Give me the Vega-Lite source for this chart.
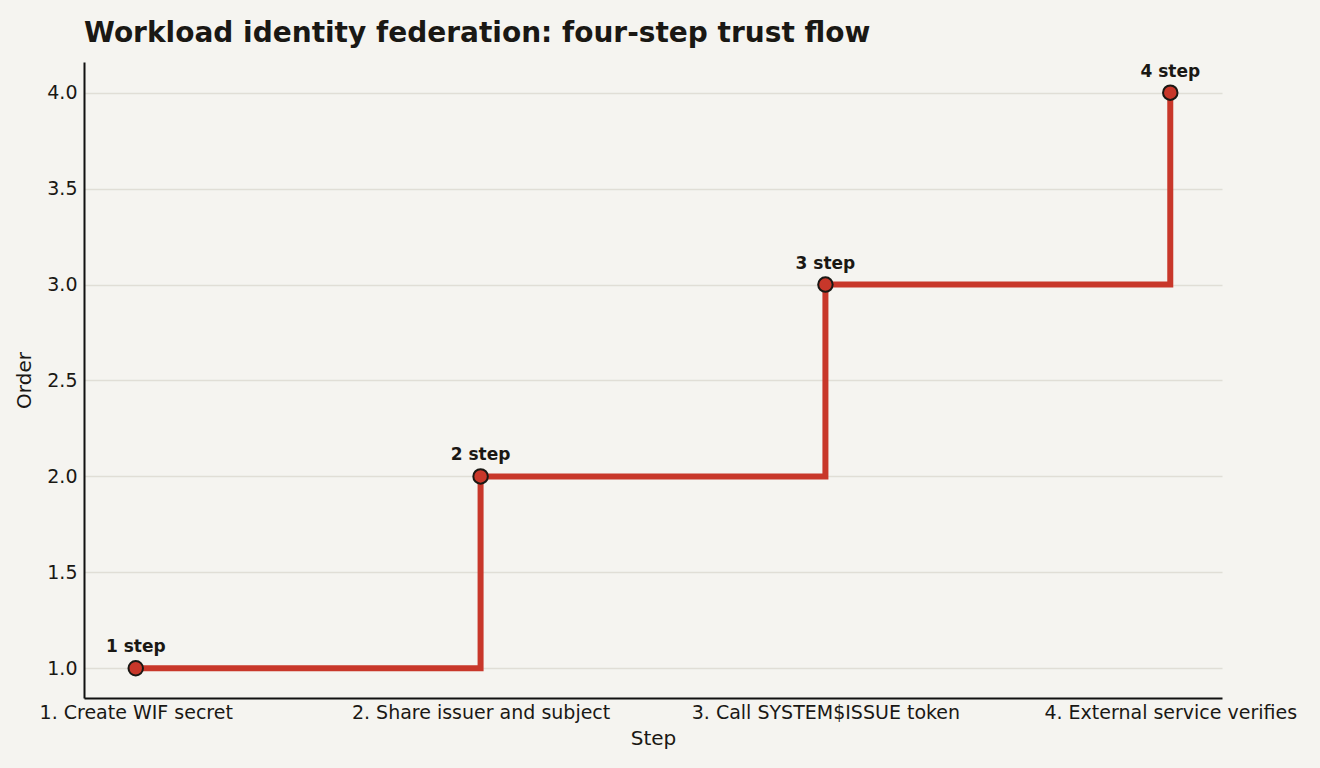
{
  "$schema": "https://vega.github.io/schema/vega-lite/v6.json",
  "width": 1138,
  "height": 636,
  "autosize": {"type": "none"},
  "padding": {"left": 84, "top": 62, "right": 98, "bottom": 70},
  "background": "#f5f4f0",
  "title": {
    "text": "Workload identity federation: four-step trust flow",
    "anchor": "start",
    "frame": "group",
    "font": "DejaVu Sans",
    "fontSize": 28,
    "fontWeight": "bold",
    "color": "#1a1814",
    "offset": 14
  },
  "config": {
    "view": {"stroke": null},
    "font": "DejaVu Sans",
    "axis": {
      "labelFont": "DejaVu Sans",
      "titleFont": "DejaVu Sans",
      "labelFontSize": 19,
      "titleFontSize": 20,
      "titleFontWeight": "normal",
      "labelColor": "#1a1814",
      "titleColor": "#1a1814",
      "labelLimit": 0,
      "domainColor": "#111111",
      "domainWidth": 2,
      "ticks": false,
      "gridColor": "#e0ded6",
      "gridWidth": 1.5
    }
  },
  "data": {
    "values": [
      {"step": "1. Create WIF secret", "order": 1, "label": "1 step"},
      {"step": "2. Share issuer and subject", "order": 2, "label": "2 step"},
      {"step": "3. Call SYSTEM$ISSUE token", "order": 3, "label": "3 step"},
      {"step": "4. External service verifies", "order": 4, "label": "4 step"}
    ]
  },
  "encoding": {
    "x": {
      "field": "step",
      "type": "ordinal",
      "sort": null,
      "scale": {"type": "point", "padding": 0.15},
      "title": "Step",
      "axis": {"labelAngle": 0, "grid": false, "labelPadding": 5, "titlePadding": 6}
    },
    "y": {
      "field": "order",
      "type": "quantitative",
      "scale": {"domain": [0.845, 4.16], "nice": false, "zero": false},
      "title": "Order",
      "axis": {"values": [1, 1.5, 2, 2.5, 3, 3.5, 4], "format": ".1f", "labelPadding": 7, "titlePadding": 12}
    }
  },
  "layer": [
    {
      "mark": {"type": "line", "interpolate": "step-after", "color": "#c8372a", "strokeWidth": 6}
    },
    {
      "mark": {"type": "point", "filled": true, "fill": "#c8372a", "stroke": "#1a1814", "strokeWidth": 2, "size": 210, "opacity": 1}
    },
    {
      "mark": {"type": "text", "baseline": "bottom", "dy": -12, "font": "DejaVu Sans", "fontSize": 17, "fontWeight": "bold", "color": "#1a1814"},
      "encoding": {"text": {"field": "label"}}
    }
  ]
}
